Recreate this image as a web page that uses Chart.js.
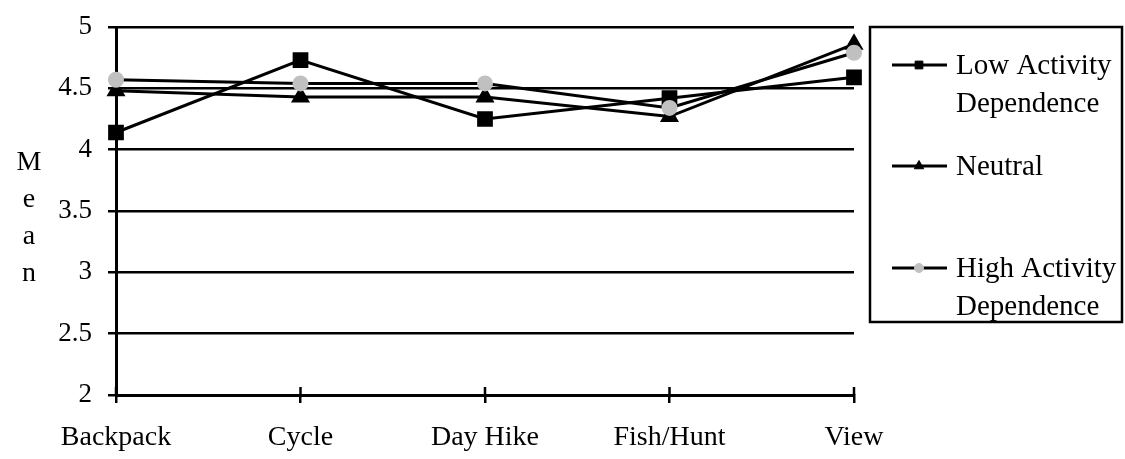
<!DOCTYPE html>
<html>
<head>
<meta charset="utf-8">
<script src="https://cdn.jsdelivr.net/npm/chart.js@4.4.1/dist/chart.umd.min.js"></script>
<style>
  html, body { margin: 0; padding: 0; background: #fff; }
</style>
</head>
<body>
<canvas id="chart" width="1125" height="459"></canvas>
<script>
// values
const categories = ['Backpack', 'Cycle', 'Day Hike', 'Fish/Hunt', 'View'];
const lowActivity = [4.14, 4.73, 4.25, 4.42, 4.59];
const neutral = [4.48, 4.43, 4.43, 4.27, 4.86];
const highActivity = [4.57, 4.54, 4.54, 4.34, 4.79];
const yTicks = [2, 2.5, 3, 3.5, 4, 4.5, 5];
const seriesNames = [['Low Activity', 'Dependence'], ['Neutral'], ['High Activity', 'Dependence']];
const axisTitle = ['M', 'e', 'a', 'n'];

const serif = "'Liberation Serif', 'Times New Roman', serif";
const grey = '#c0c0c0';

// boxed legend on the right + stacked "Mean" title, drawn on the canvas
const sideLegend = {
  id: 'sideLegend',
  afterDraw(chart) {
    const ctx = chart.ctx;
    const area = chart.chartArea;
    ctx.save();

    // small tick marks above the x axis line
    const xs = chart.scales.x;
    ctx.strokeStyle = '#000';
    ctx.lineWidth = 2.5;
    xs.ticks.forEach((t, i) => {
      const px = xs.getPixelForTick(i);
      ctx.beginPath();
      ctx.moveTo(px, area.bottom - 8);
      ctx.lineTo(px, area.bottom);
      ctx.stroke();
    });

    // y title, one letter per line
    ctx.fillStyle = '#000';
    ctx.font = '28px ' + serif;
    ctx.textAlign = 'center';
    ctx.textBaseline = 'middle';
    const midY = (area.top + area.bottom) / 2;
    axisTitle.forEach((ch, i) => {
      ctx.fillText(ch, 29, midY - 48 + i * 37);
    });

    // legend box
    const bx = area.right + 16, by = area.top, bw = 252, bh = 295;
    ctx.lineWidth = 2.5;
    ctx.strokeRect(bx, by, bw, bh);

    const rows = [38, 139, 241];
    const markerR = [5.5, 5.5, 4.5];
    ctx.font = '29px ' + serif;
    ctx.textAlign = 'left';
    chart.data.datasets.forEach((ds, i) => {
      const y = by + rows[i];
      ctx.strokeStyle = '#000';
      ctx.lineWidth = 3;
      ctx.beginPath();
      ctx.moveTo(bx + 22, y);
      ctx.lineTo(bx + 77, y);
      ctx.stroke();
      ctx.fillStyle = ds.pointBackgroundColor;
      ctx.strokeStyle = ds.pointBorderColor;
      ctx.lineWidth = 1;
      Chart.helpers.drawPoint(ctx, { pointStyle: ds.pointStyle, radius: markerR[i], rotation: 0, borderWidth: 1 }, bx + 49, y);
      ctx.fillStyle = '#000';
      seriesNames[i].forEach((line, j) => {
        ctx.fillText(line, bx + 86, y + 1 + j * 38);
      });
    });
    ctx.restore();
  }
};

new Chart(document.getElementById('chart').getContext('2d'), {
  type: 'line',
  data: {
    labels: categories,
    datasets: [
      {
        label: seriesNames[0].join(' '),
        data: lowActivity,
        borderColor: '#000',
        borderWidth: 3,
        pointStyle: 'rect',
        pointRadius: 9,
        pointBackgroundColor: '#000',
        pointBorderColor: '#000',
        order: 3
      },
      {
        label: seriesNames[1].join(' '),
        data: neutral,
        borderColor: '#000',
        borderWidth: 3,
        pointStyle: 'triangle',
        pointRadius: 8,
        pointBackgroundColor: '#000',
        pointBorderColor: '#000',
        order: 2
      },
      {
        label: seriesNames[2].join(' '),
        data: highActivity,
        borderColor: '#000',
        borderWidth: 3,
        pointStyle: 'circle',
        pointRadius: 6.5,
        pointBackgroundColor: grey,
        pointBorderColor: grey,
        order: 1
      }
    ]
  },
  options: {
    responsive: false,
    animation: false,
    clip: false,
    layout: {
      padding: { left: 0, right: 271, top: 27, bottom: 0 }
    },
    elements: { line: { tension: 0 } },
    scales: {
      x: {
        offset: false,
        grid: {
          drawOnChartArea: false,
          color: '#000',
          lineWidth: 2.5,
          tickLength: 8
        },
        border: { display: true, color: '#000', width: 3 },
        ticks: {
          color: '#000',
          font: { family: serif, size: 28 },
          padding: 18,
          maxRotation: 0
        },
        afterFit(scale) {
          scale.height = 64;
          scale.paddingLeft = 0;
          scale.paddingRight = 0;
        }
      },
      y: {
        min: 2,
        max: 5,
        afterBuildTicks(scale) {
          scale.ticks = yTicks.map(v => ({ value: v }));
        },
        grid: {
          color: '#000',
          lineWidth: 2.5,
          tickLength: 8
        },
        border: { display: true, color: '#000', width: 3 },
        ticks: {
          color: '#000',
          font: { family: serif, size: 27 },
          padding: 16,
          callback: v => String(v)
        },
        afterFit(scale) {
          scale.width = 116;
          scale.paddingTop = 0;
          scale.paddingBottom = 0;
        }
      }
    },
    plugins: {
      legend: { display: false },
      tooltip: { enabled: false }
    }
  },
  plugins: [sideLegend]
});
</script>
</body>
</html>
